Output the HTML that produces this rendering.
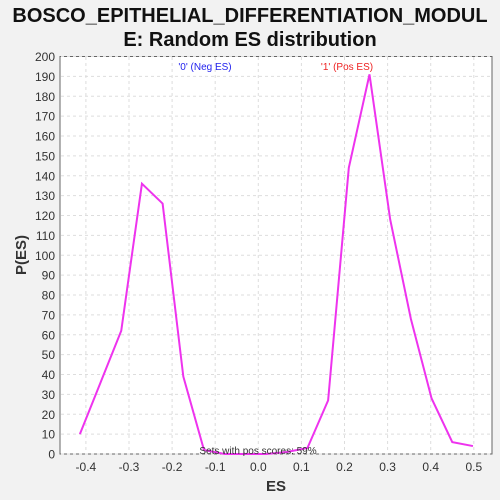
<!DOCTYPE html>
<html><head><meta charset="utf-8"><style>
body{margin:0;background:#f2f2f2;}
svg{display:block;font-family:"Liberation Sans","DejaVu Sans",sans-serif;}
</style></head><body>
<svg id="c" width="500" height="500">
<rect x="0" y="0" width="500" height="500" fill="#f2f2f2"/>
<text x="250" y="22" text-anchor="middle" font-size="20" font-weight="bold" fill="#111">BOSCO_EPITHELIAL_DIFFERENTIATION_MODUL</text>
<text x="250" y="46" text-anchor="middle" font-size="20" font-weight="bold" fill="#111">E: Random ES distribution</text>
<rect x="60" y="56.5" width="432" height="397.5" fill="#fff" stroke="#666"/>
<g id="grid"></g><g id="ticks"></g>
<text x="205" y="70" text-anchor="middle" font-size="10" fill="#2222ee">'0' (Neg ES)</text>
<text x="347" y="70" text-anchor="middle" font-size="10" fill="#ee2222">'1' (Pos ES)</text>
<polyline id="line" fill="none" stroke="#ee33ee" stroke-width="2"/>
<text x="258" y="454" text-anchor="middle" font-size="10" fill="#333">Sets with pos scores: 59%</text>
<text x="276" y="491" text-anchor="middle" font-size="15" font-weight="bold" fill="#333">ES</text>
<text x="26" y="255" text-anchor="middle" font-size="15" font-weight="bold" fill="#333" transform="rotate(-90 26 255)">P(ES)</text>
</svg>
<script>
const esValues=[-0.414,-0.366,-0.318,-0.270,-0.222,-0.174,-0.126,-0.078,-0.030,0.018,0.066,0.114,0.162,0.210,0.258,0.306,0.354,0.402,0.450,0.498];
const pValues=[10,36,62,136,126,39,2,0,0,0,1,3,27,144,191,118,68,28,6,4];
const xTicks=[-0.4,-0.3,-0.2,-0.1,0.0,0.1,0.2,0.3,0.4,0.5];
const yTicks=[0,10,20,30,40,50,60,70,80,90,100,110,120,130,140,150,160,170,180,190,200];
const X=v=>258.3+v*431, Y=v=>454-v*1.9875;
const NS="http://www.w3.org/2000/svg";
const grid=document.getElementById('grid'), ticks=document.getElementById('ticks');
function mk(tag,attrs,parent){const e=document.createElementNS(NS,tag);for(const k in attrs)e.setAttribute(k,attrs[k]);parent.appendChild(e);return e;}
xTicks.forEach(t=>{
 const g=mk('line',{x1:X(t),x2:X(t),y1:57,y2:453,stroke:'#ddd','stroke-dasharray':'3,3'},grid);
 
 
 const l=mk('text',{x:X(t),y:471,'text-anchor':'middle','font-size':'12',fill:'#333'},ticks);
 l.textContent=t.toFixed(1);
 
 
});
yTicks.forEach(t=>{
 const g=mk('line',{x1:61,x2:491,y1:Y(t),y2:Y(t),stroke:'#ddd','stroke-dasharray':'3,3'},grid);
 
 
 const l=mk('text',{x:55,y:Y(t)+4.5,'text-anchor':'end','font-size':'12',fill:'#333'},ticks);
 l.textContent=t;
 
 
});
document.getElementById('line').setAttribute('points',esValues.map((v,i)=>X(v)+','+Y(pValues[i])).join(' '));
</script>
</body></html>
